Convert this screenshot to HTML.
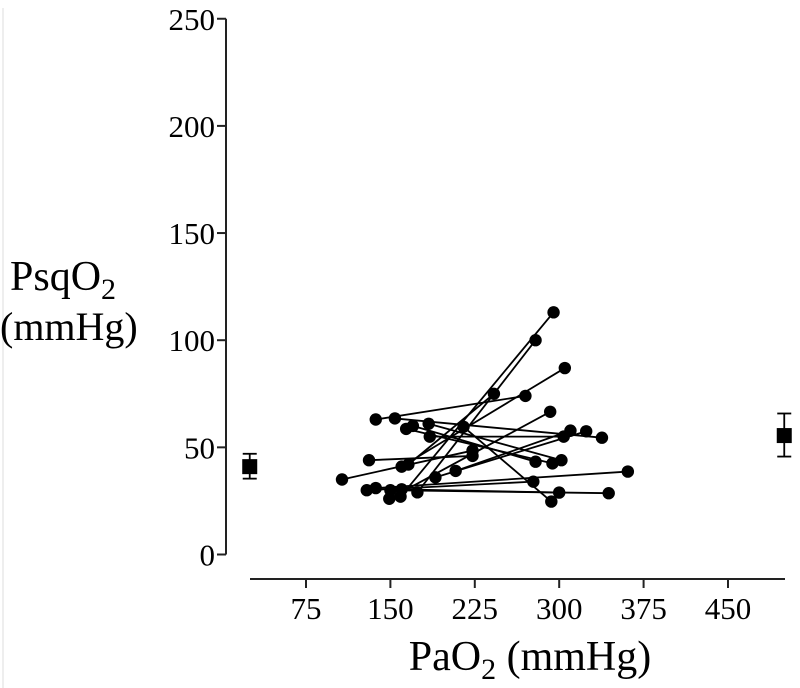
<!DOCTYPE html>
<html><head><meta charset="utf-8"><style>
body{margin:0;background:#fff;}
svg{display:block;font-family:"Liberation Serif",serif;}
</style></head><body>
<svg id="chart" width="800" height="688" viewBox="0 0 800 688">
<line x1="3" y1="8" x2="3" y2="688" stroke="#ddd" stroke-width="1"/>
<g id="axes"></g><g id="lines"></g><g id="marks"></g>
<text x="10" y="290" font-size="42">PsqO<tspan font-size="30" dy="9">2</tspan></text>
<text x="0" y="340" font-size="40">(mmHg)</text>
<text x="530" y="670" font-size="42" text-anchor="middle">PaO<tspan font-size="30" dy="9">2</tspan><tspan dy="-9"> (mmHg)</tspan></text>
</svg>
<script>
const preX=[159,174,160,166,137,107,131,154,164,170,184,215,208,190,129,137,150,160,149,185];
const preY=[27,29,41,42,63,35,44,63.5,58.6,60,61,59.6,39,36,30,31,30,30.4,26,55];
const postX=[295,279,305,242,270,223,223,338,294,279,302,293,310,324,277,361,344,300,292,304];
const postY=[113,100,87,75,74,48.5,46,54.5,42.5,43.3,44,24.7,57.8,57.5,34,38.7,28.6,28.9,66.6,55];
const summaryX=[25,500];
const summaryMean=[41,55.5];
const summaryHi=[47,65.8];
const summaryLo=[35.4,45.7];
const yTicks=[0,50,100,150,200,250];
const xTicks=[75,150,225,300,375,450];
const NS="http://www.w3.org/2000/svg";
const sx=v=>221.6+v*1.1253;
const sy=v=>554.5-v*2.143;
function mk(tag,attrs,parent){const e=document.createElementNS(NS,tag);for(const k in attrs)e.setAttribute(k,attrs[k]);parent.appendChild(e);return e;}
const axes=document.getElementById('axes'),lines=document.getElementById('lines'),marks=document.getElementById('marks');
let e=mk('line',{x1:226,y1:sy(250),x2:226,y2:sy(0),stroke:'#222','stroke-width':2},axes);


yTicks.forEach(t=>{
 let l=mk('line',{x1:217,x2:226,y1:sy(t),y2:sy(t),stroke:'#222','stroke-width':2},axes);
 
 
 let tx=mk('text',{x:215,y:sy(t)+11,'font-size':31,'text-anchor':'end'},axes);tx.textContent=t;
 
 
});
e=mk('line',{x1:250,y1:579,x2:785,y2:579,stroke:'#222','stroke-width':2},axes);


xTicks.forEach(t=>{
 let l=mk('line',{x1:sx(t),x2:sx(t),y1:579,y2:588,stroke:'#222','stroke-width':2},axes);
 
 
 let tx=mk('text',{x:sx(t),y:619,'font-size':31,'text-anchor':'middle'},axes);tx.textContent=t;
 
 
});
preX.forEach((_,i)=>{
 let l=mk('line',{x1:sx(preX[i]),y1:sy(preY[i]),x2:sx(postX[i]),y2:sy(postY[i]),stroke:'#000','stroke-width':1.8},lines);
 
 
 let a=mk('circle',{cx:sx(preX[i]),cy:sy(preY[i]),r:6.2,fill:'#000'},marks);
 
 
 let b=mk('circle',{cx:sx(postX[i]),cy:sy(postY[i]),r:6.2,fill:'#000'},marks);
 
 
});
summaryX.forEach((x,i)=>{
 const cx=sx(x);
 let g=mk('g',{},marks);
 
 
 mk('line',{x1:cx,x2:cx,y1:sy(summaryHi[i]),y2:sy(summaryLo[i]),stroke:'#000','stroke-width':1.8},g);
 mk('line',{x1:cx-7,x2:cx+7,y1:sy(summaryHi[i]),y2:sy(summaryHi[i]),stroke:'#000','stroke-width':1.8},g);
 mk('line',{x1:cx-7,x2:cx+7,y1:sy(summaryLo[i]),y2:sy(summaryLo[i]),stroke:'#000','stroke-width':1.8},g);
 mk('rect',{x:cx-7.5,y:sy(summaryMean[i])-7.5,width:15,height:15,fill:'#000'},g);
});
</script>
</body></html>
